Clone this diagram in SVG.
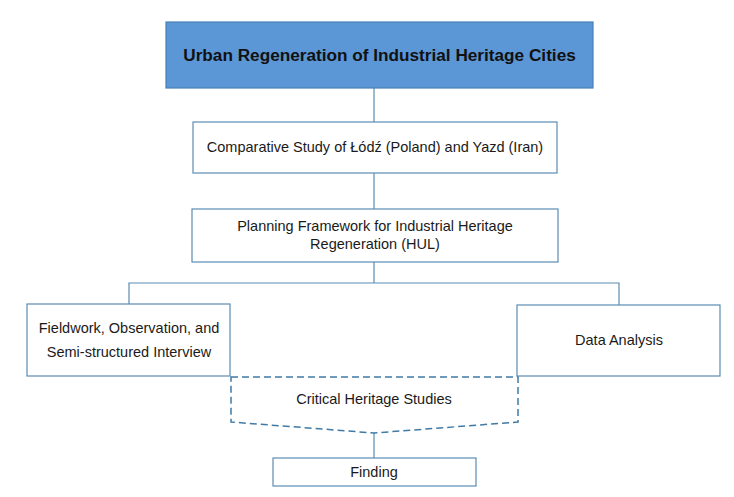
<svg xmlns="http://www.w3.org/2000/svg" width="734" height="497" viewBox="0 0 734 497">
<style>
.box{fill:#ffffff;stroke:#5a8db3;stroke-width:1.2}
.t{font-family:"Liberation Sans",Arial,sans-serif;font-size:14.5px;fill:#1a1a1a;text-anchor:middle;dominant-baseline:central}
.title{font-family:"Liberation Sans",Arial,sans-serif;font-size:17.2px;font-weight:bold;fill:#111111;text-anchor:middle;dominant-baseline:central}
.ln{fill:none;stroke:#5a8db3;stroke-width:1.2}
.dash{fill:none;stroke:#3f7aa6;stroke-width:1.5;stroke-dasharray:7,4}
</style>
<rect width="734" height="497" fill="#ffffff"/>
<g id="connectors">
<path class="ln" d="M374,88V122"/>
<path class="ln" d="M374,173V209"/>
<path class="ln" d="M374,262V283"/>
<path class="ln" d="M129,304V283H619V305"/>
<path class="ln" d="M374,433V458"/>
</g>
<g id="n1">
<rect x="166" y="22" width="427" height="66" fill="#5b96d6" stroke="#4a7fb5" stroke-width="1.2"/>
<text class="title" x="379.5" y="55">Urban Regeneration of Industrial Heritage Cities</text>
</g>
<g id="n2">
<rect class="box" x="193" y="122" width="364" height="51"/>
<text class="t" x="375" y="147">Comparative Study of Łódź (Poland) and Yazd (Iran)</text>
</g>
<g id="n3">
<rect class="box" x="192" y="209" width="366" height="53"/>
<text class="t" x="375" y="226">Planning Framework for Industrial Heritage</text>
<text class="t" x="375" y="244">Regeneration (HUL)</text>
</g>
<g id="n4">
<rect class="box" x="27" y="304" width="203" height="72"/>
<text class="t" x="129" y="328">Fieldwork, Observation, and</text>
<text class="t" x="129" y="352">Semi-structured Interview</text>
</g>
<g id="n5">
<rect class="box" x="517" y="305" width="203" height="71"/>
<text class="t" x="619" y="340">Data Analysis</text>
</g>
<g id="n6">
<path class="dash" d="M231,377H518V422L374,433L231,422Z"/>
<text class="t" x="374" y="399">Critical Heritage Studies</text>
</g>
<g id="n7">
<rect class="box" x="273" y="458" width="203" height="28"/>
<text class="t" x="374" y="472">Finding</text>
</g>
</svg>
